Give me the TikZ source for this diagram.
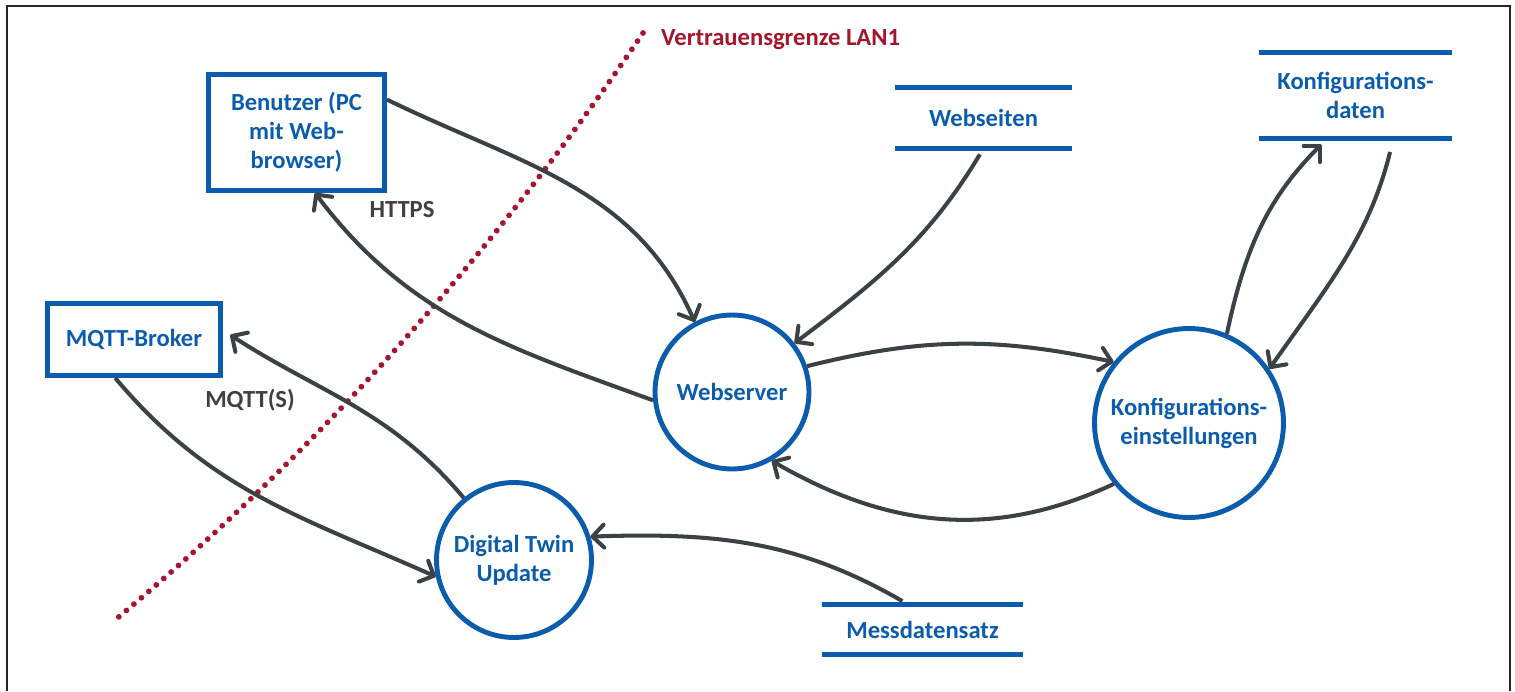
\documentclass[tikz,border=0pt]{standalone}
\usepackage{fontspec}
\setmainfont{Carlito}
\definecolor{dfdblue}{HTML}{0B5CAD}
\definecolor{flowgray}{HTML}{3B4145}
\definecolor{lanred}{HTML}{A3162D}
\definecolor{labelgray}{HTML}{404040}
\usepackage{tikz}
\usetikzlibrary{arrows.meta}
\usetikzlibrary{calc, positioning}

\begin{document}
\begin{tikzpicture}[x=0.02cm, y=0.02cm,
	every node/.style={font=\fontsize{14}{16.5}\selectfont\bfseries},
	extern/.style={draw=dfdblue, line width=2.8pt, text=dfdblue, align=center, inner sep=0pt},
	process/.style={circle, draw=dfdblue, line width=2.8pt, text=dfdblue, align=center, inner sep=0pt},
	storeline/.style={draw=dfdblue, line width=2.8pt},
	store/.style={text=dfdblue, align=center, inner sep=0pt,
		append after command={(\tikzlastnode.north west) edge[storeline] (\tikzlastnode.north east)
			(\tikzlastnode.south west) edge[storeline] (\tikzlastnode.south east)}},
	flow/.style={draw=flowgray, line width=2.3pt, line join=round, -{Straight Barb[length=6.5pt, width=13pt, round]}},
	flowlabel/.style={text=labelgray}]
	\useasboundingbox (0,0) rectangle (1515,691);
	\draw[line width=1.1pt, black!85] (7,0) -- (7,685) -- (1510,685) -- (1510,0);
	%trust boundary
	\coordinate (gtop) at (643,658);
	\coordinate (gbottom) at (115,71);
	\draw[lanred, line width=3.3pt, line cap=round, dash pattern=on 0pt off 5.6pt]
	(gtop) .. controls (497,442) and (315,237) .. (gbottom);
	\node[text=lanred, anchor=west] (grenze) at (655,651) {Vertrauensgrenze LAN1};
	%externals
	\node[extern, minimum width=3.52cm, minimum height=2.32cm] (benutzer) at (296.5,558.5) {Benutzer (PC\\mit Web-\\browser)};
	\node[extern, minimum width=3.46cm, minimum height=1.44cm] (broker) at (134,351.5) {MQTT-Broker};
	%processes
	\node[process, minimum size=3.08cm] (webserver) at (732,299) {Webserver};
	\node[process, minimum size=3.78cm] (konfig) at (1189,268) {Konfigurations-\\einstellungen};
	\node[process, minimum size=3.1cm] (twin) at (514,131) {Digital Twin\\Update};
	%data stores
	\node[store, minimum width=3.54cm, minimum height=1.2cm] (webseiten) at (983.5,573) {Webseiten};
	\node[store, minimum width=3.86cm, minimum height=1.7cm] (kdaten) at (1355.5,595.5) {Konfigurations-\\daten};
	\node[store, minimum width=4.02cm, minimum height=0.98cm] (messdaten) at (922.5,61.5) {Messdatensatz};
	%flows
	\draw[flow] (benutzer.20) to[out=-26, in=114] (webserver.118);
	\draw[flow] (webserver.186) to[out=160, in=-53] (benutzer.-73);
	\draw[flow, shorten <=4pt] (webseiten.south) to[out=-121, in=37] (webserver.38);
	\draw[flow] (webserver.19) to[out=14, in=168] (konfig.141);
	\draw[flow] (konfig.219) to[out=205, in=-30] (webserver.-60);
	\draw[flow, shorten >=5pt] (konfig.67) to[out=78, in=225] ($(kdaten.south)+(-28,0)$);
	\draw[flow, shorten <=8pt] ($(kdaten.south)+(38,0)$) to[out=-104, in=55] (konfig.34);
	\draw[flow, shorten <=4pt] ($(messdaten.north)+(-14,0)$) to[out=150, in=2] (twin.17);
	\draw[flow, shorten >=5pt] (twin.129) to[out=130, in=-33] (broker.6);
	\draw[flow] (broker.244) to[out=-50, in=156] (twin.192);
	\node[flowlabel] (https) at (402,481) {HTTPS};
	\node[flowlabel] (mqtts) at (250,291) {MQTT(S)};
\end{tikzpicture}
\end{document}
